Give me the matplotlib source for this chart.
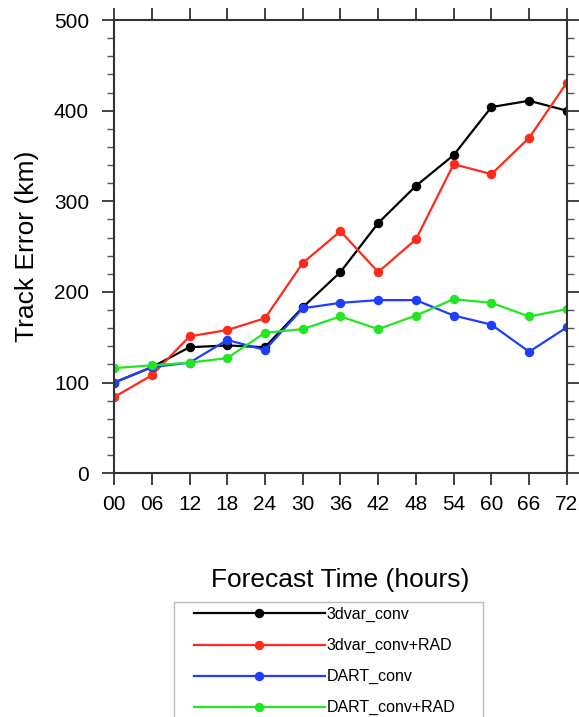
import matplotlib
matplotlib.use("Agg")
import matplotlib.pyplot as plt
from matplotlib.patches import Rectangle
from matplotlib.ticker import MultipleLocator

# forecast hours and track errors (km)
hours = ["00", "06", "12", "18", "24", "30", "36", "42", "48", "54", "60", "66", "72"]
var_conv = [100, 117, 139, 141, 139, 183, 222, 276, 317, 351, 404, 411, 400]
var_conv_rad = [84, 108, 151, 158, 171, 232, 267, 222, 258, 341, 330, 370, 431]
dart_conv = [100, 117, 122, 147, 136, 182, 188, 191, 191, 174, 164, 134, 161]
dart_conv_rad = [116, 119, 122, 127, 155, 159, 173, 159, 174, 192, 188, 173, 181]

series = [
    ("3dvar_conv", var_conv, "black"),
    ("3dvar_conv+RAD", var_conv_rad, "#ff2a1a"),
    ("DART_conv", dart_conv, "#1f3dff"),
    ("DART_conv+RAD", dart_conv_rad, "#22e622"),
]

plt.rcParams["font.family"] = ["Liberation Sans", "DejaVu Sans"]

fig = plt.figure(figsize=(5.79, 7.17), dpi=100)
ax = fig.add_axes([0.197, 0.340, 0.782, 0.632])

x = list(range(len(hours)))
for name, vals, col in series:
    ax.plot(x, vals, color=col, linewidth=1.6, marker="o", markersize=5.8, label=name)

ax.set_xlim(0, len(hours) - 1)
ax.set_ylim(0, 500)
ax.set_xticks(x)
ax.set_xticklabels(hours)
ax.yaxis.set_major_locator(MultipleLocator(100))
ax.yaxis.set_minor_locator(MultipleLocator(20))

ax.tick_params(axis="x", which="major", direction="out", length=8.5, width=1.3,
               top=True, labelsize=15, pad=7.5, color="#333333")
ax.tick_params(axis="y", which="major", direction="out", length=9, width=1.3,
               right=True, labelsize=15, pad=9, color="#333333")
ax.tick_params(axis="y", which="minor", direction="out", length=5, width=1.0,
               right=True, color="#555555")
for s in ax.spines.values():
    s.set_linewidth(1.5)
    s.set_color("#333333")

ax.set_ylabel("Track Error (km)", fontsize=19, labelpad=11)
fig.text(0.587, 1 - 580 / 717, "Forecast Time (hours)", fontsize=19,
         ha="center", va="center")

# legend box (runs off the bottom of the figure)
fig.patches.append(Rectangle((174 / 579, -0.02), (483 - 174) / 579, 0.02 + 115 / 717,
                             transform=fig.transFigure, facecolor="white",
                             edgecolor="#bbbbbb", linewidth=1.0))
fig.legend(loc="upper left", bbox_to_anchor=(194 / 579, 1 - 607 / 717), fontsize=11.5,
           handlelength=8.2, handletextpad=0.12, labelspacing=1.0,
           borderpad=0, borderaxespad=0, frameon=False, numpoints=1)

fig.savefig("out.png", dpi=100)
